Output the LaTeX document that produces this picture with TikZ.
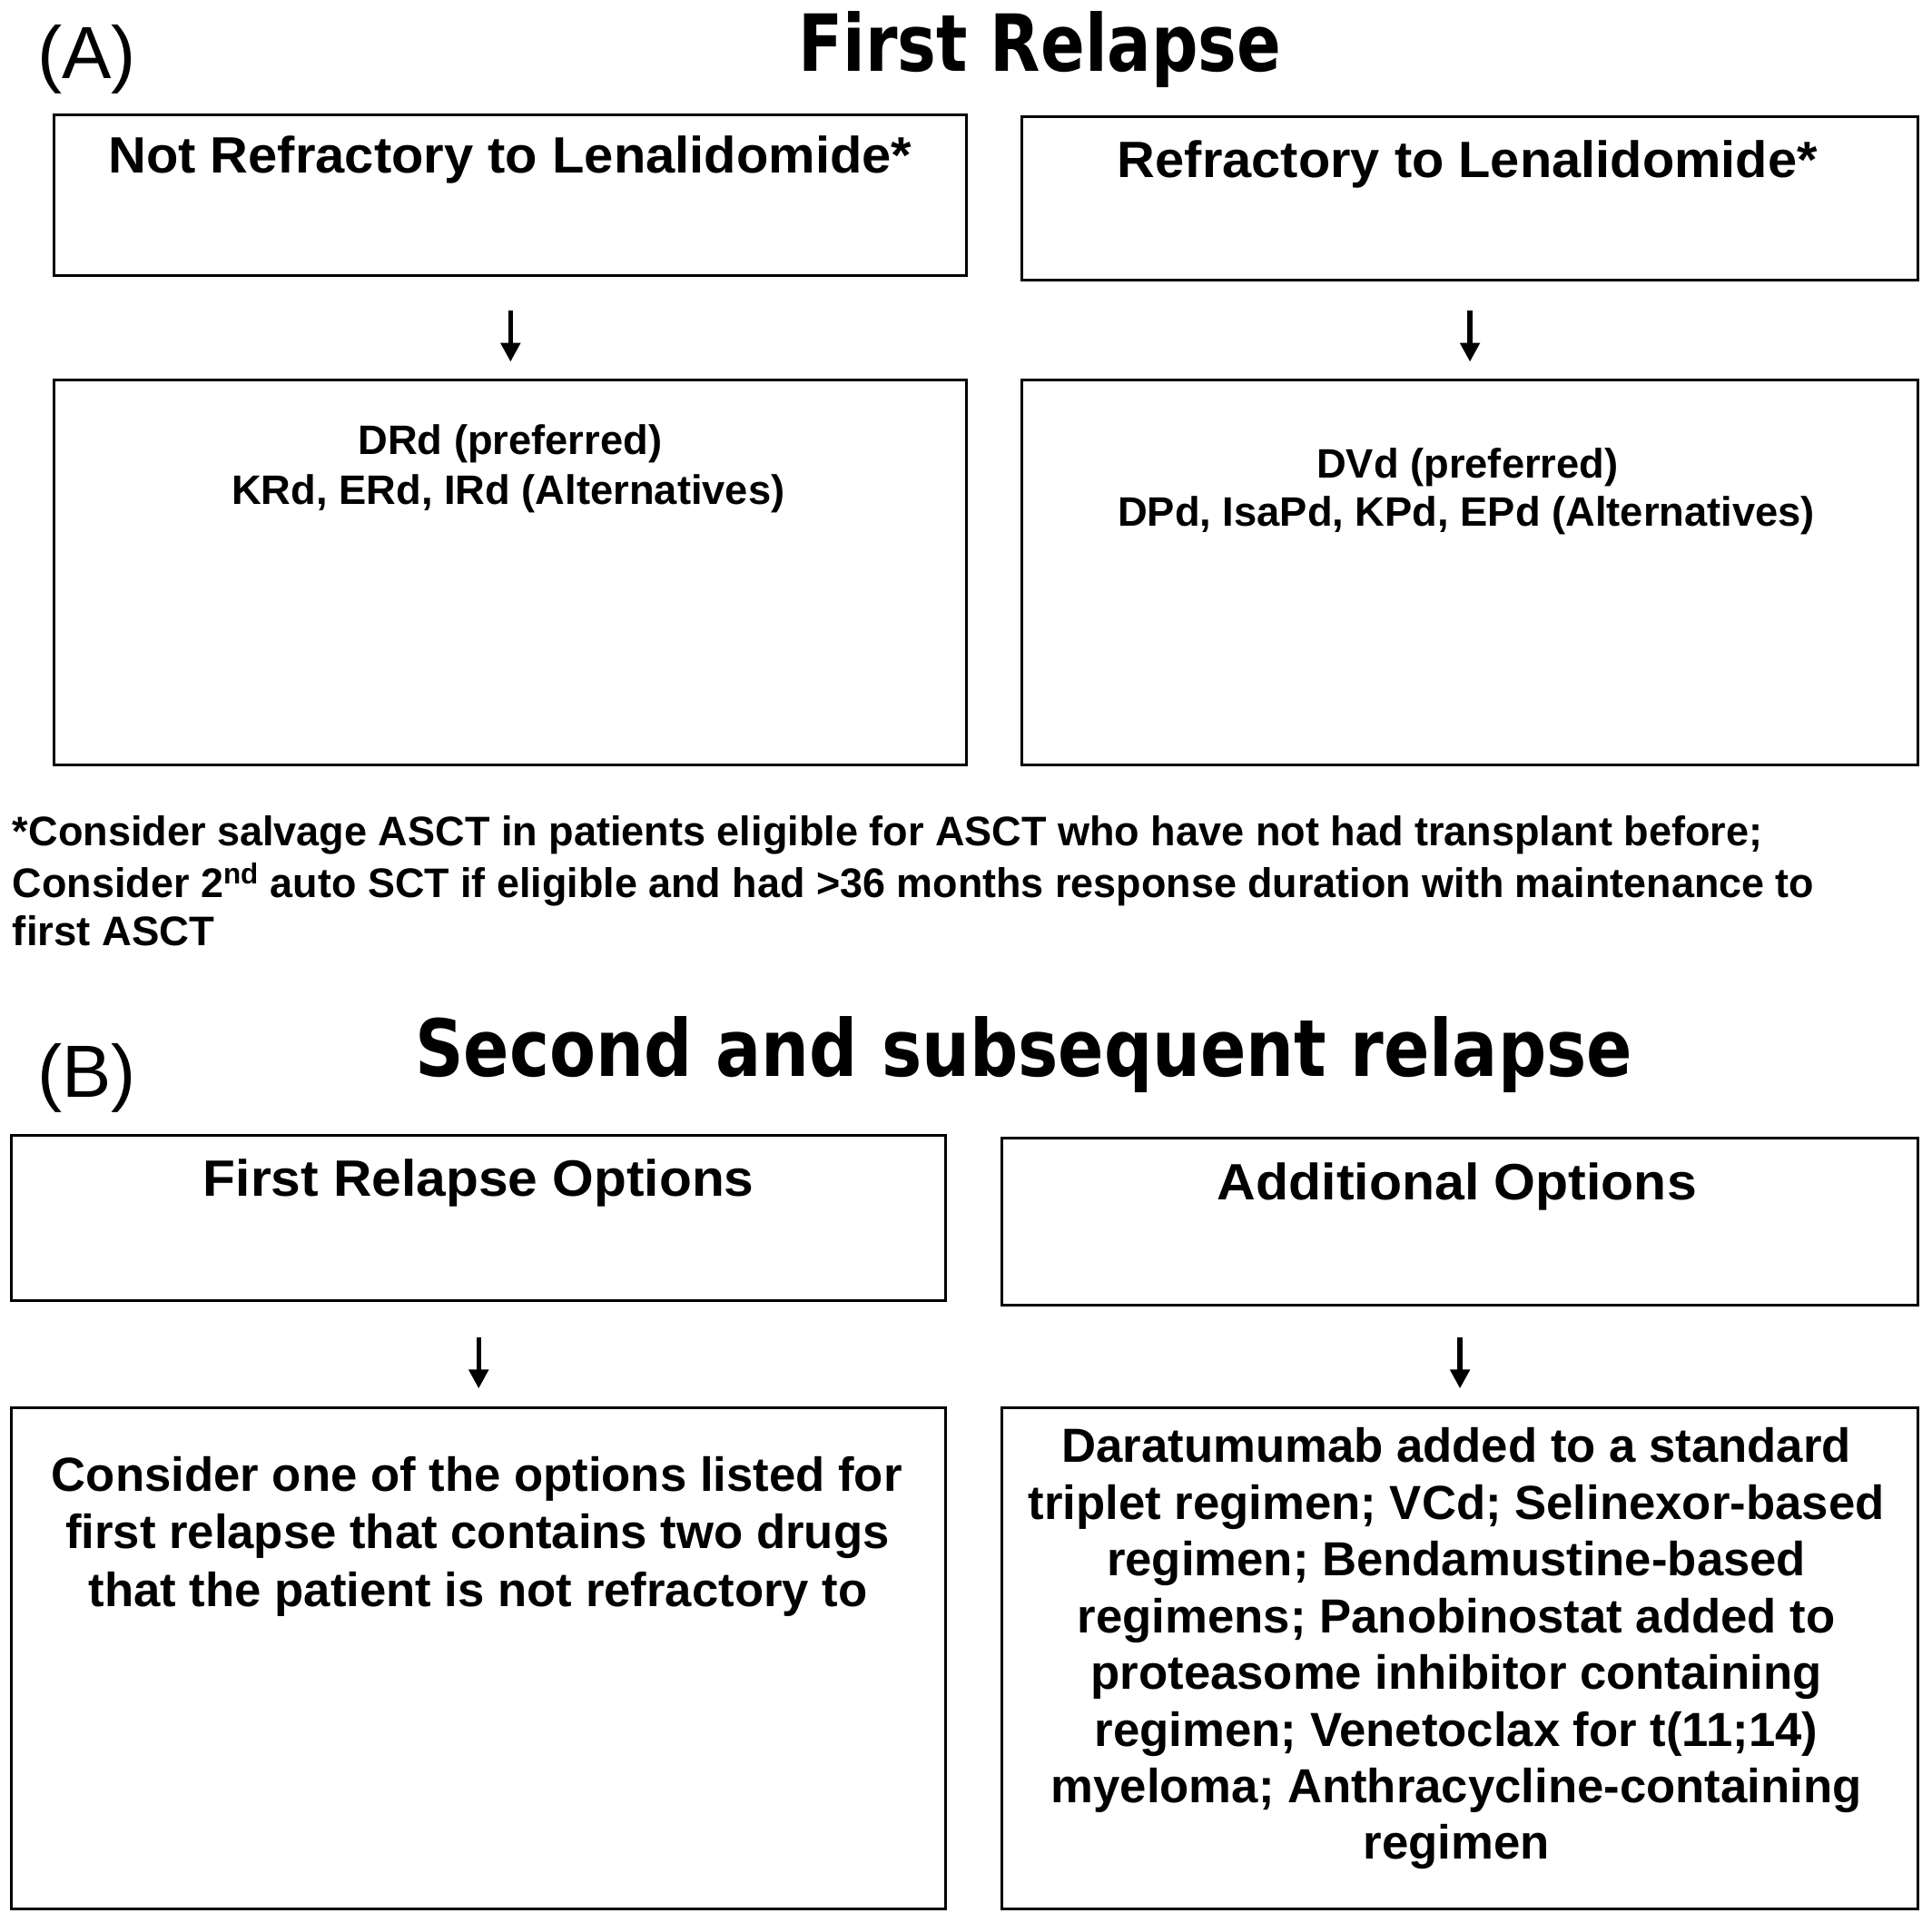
\documentclass[tikz,border=0pt]{standalone}
\usepackage{fontspec}
\setmainfont{Liberation Sans}
\newfontfamily\titlefont{DejaVu Sans}
\usepackage{graphicx}
\usetikzlibrary{arrows.meta,fit}
\newcommand{\fw}[2]{\resizebox{#1}{\height}{#2}}
\begin{document}
\begin{tikzpicture}[x=0.68pt,y=-0.68pt,
  box/.style={draw=black, line width=1.5pt, inner sep=0pt},
  hdr/.style={font=\fontsize{28.2}{34}\selectfont\bfseries, inner sep=0pt, anchor=base},
  body/.style={font=\fontsize{26.4}{31.5}\selectfont\bfseries, inner sep=0pt, anchor=base},
  subt/.style={font=\fontsize{22.7}{27}\selectfont\bfseries, inner sep=0pt, anchor=base},
  ttl/.style={font=\titlefont\fontsize{43.5}{50}\selectfont\bfseries, inner sep=0pt, anchor=base},
  lbl/.style={font=\fontsize{40.8}{48}\selectfont, inner sep=0pt, anchor=base west},
  foot/.style={font=\fontsize{22.8}{27}\selectfont\bfseries, inner sep=0pt, anchor=base west},
  arr/.style={-{Triangle[length=10.5pt,width=10.5pt]}, line width=2.6pt}]
\useasboundingbox (0,0) rectangle (1568,1560.6);
\fill[white] (0,0) rectangle (1568,1560.6);

% Part A
\node[lbl] (labA) at (30,63.5) {(A)};
\node[ttl] (ttlA) at (844,57.7) {\fw{266.6pt}{First Relapse}};

\node[box, fit={(44,93.5) (784.7,223.6)}] (a1) {};
\node[box, fit={(829.5,94.6) (1556.5,227.2)}] (a2) {};
\node[box, fit={(44,308.3) (784.7,621)}] (a3) {};
\node[box, fit={(829.5,308.3) (1556.5,621)}] (a4) {};

\node[hdr] (a1t) at (414,140.5) {\fw{443.4pt}{Not Refractory to Lenalidomide*}};
\node[hdr] (a2t) at (1191,143.7) {\fw{386.2pt}{Refractory to Lenalidomide*}};

\node[subt] (a3t1) at (414,369) {DRd (preferred)};
\node[subt] (a3t2) at (412.5,409) {KRd, ERd, IRd (Alternatives)};
\node[subt] (a4t1) at (1191,388) {DVd (preferred)};
\node[subt] (a4t2) at (1190,427) {DPd, IsaPd, KPd, EPd (Alternatives)};

\draw[arr, shorten <=18.4pt, shorten >=9.2pt] (a1) -- (a3);
\draw[arr, shorten <=16.2pt, shorten >=9.2pt] (a2) -- (a4);

% footnote
\node[foot] (f1) at (10,686.6) {\fw{965.6pt}{*Consider salvage ASCT in patients eligible for ASCT who have not had transplant before;}};
\node[foot] (f2) at (10,728.3) {\fw{994.2pt}{Consider 2\textsuperscript{nd} auto SCT if eligible and had >36 months response duration with maintenance to}};
\node[foot] (f3) at (10,767.6) {\fw{111.5pt}{first ASCT}};

% Part B
\node[lbl] (labB) at (30,890.4) {(B)};
\node[ttl] (ttlB) at (831,873.2) {\fw{671.8pt}{Second and subsequent relapse}};

\node[box, fit={(9.3,921.6) (767.7,1055.3)}] (b1) {};
\node[box, fit={(813.3,923.6) (1556.5,1059.2)}] (b2) {};
\node[box, fit={(9.3,1142.7) (767.7,1549.5)}] (b3) {};
\node[box, fit={(813.3,1142.7) (1556.5,1549.5)}] (b4) {};

\node[hdr] (b1t) at (388.5,970.8) {\fw{304pt}{First Relapse Options}};
\node[hdr] (b2t) at (1182.5,974) {\fw{264.5pt}{Additional Options}};

\draw[arr, shorten <=19.5pt, shorten >=10pt] (b1) -- (b3);
\draw[arr, shorten <=16.9pt, shorten >=10pt] (b2) -- (b4);

\node[body] (b3t1) at (387,1210.5) {Consider one of the options listed for};
\node[body] (b3t2) at (387.5,1257) {first relapse that contains two drugs};
\node[body] (b3t3) at (388,1303.5) {that the patient is not refractory to};

\node[body] (b4t1) at (1182,1187) {Daratumumab added to a standard};
\node[body] (b4t2) at (1182,1233) {triplet regimen; VCd; Selinexor-based};
\node[body] (b4t3) at (1182,1279) {regimen; Bendamustine-based};
\node[body] (b4t4) at (1182,1325) {regimens; Panobinostat added to};
\node[body] (b4t5) at (1182,1371) {proteasome inhibitor containing};
\node[body] (b4t6) at (1182,1417) {regimen; Venetoclax for t(11;14)};
\node[body] (b4t7) at (1182,1463) {myeloma; Anthracycline-containing};
\node[body] (b4t8) at (1182,1509) {regimen};
\end{tikzpicture}
\end{document}
